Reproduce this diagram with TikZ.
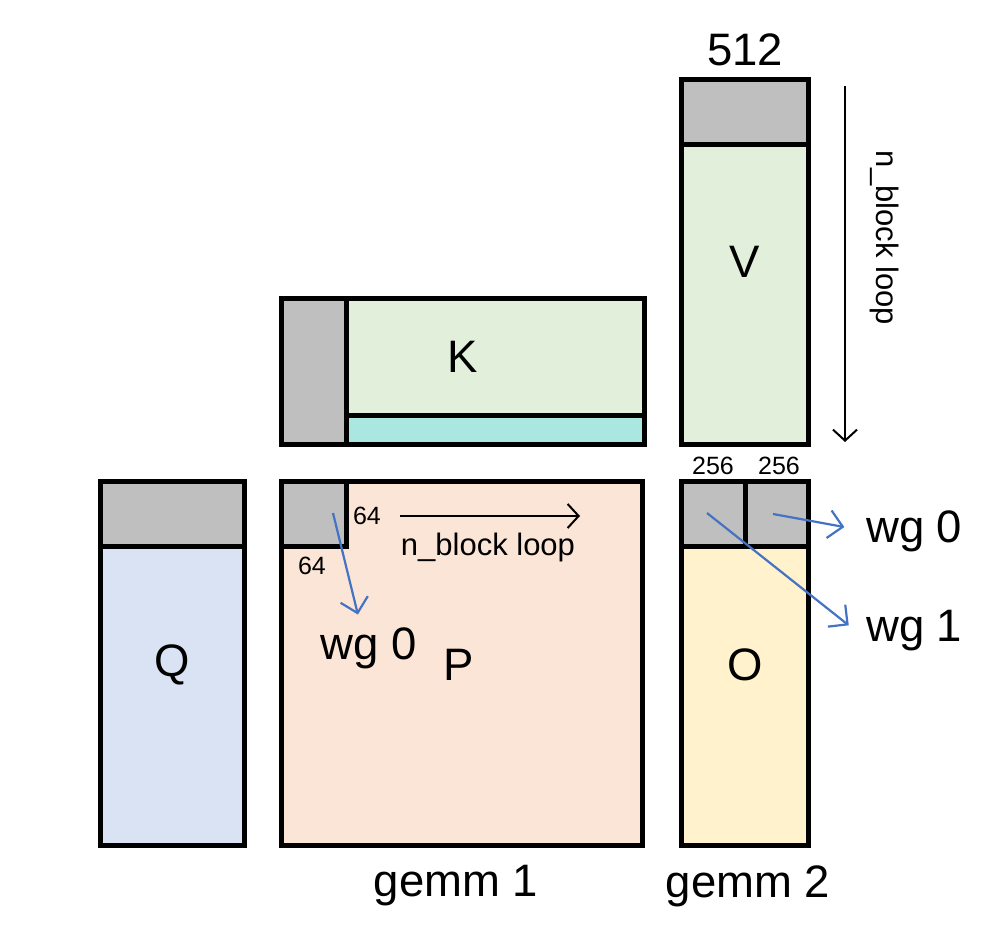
\documentclass[tikz,border=0pt]{standalone}
\usepackage{fontspec}
\setmainfont{Liberation Sans}
\usetikzlibrary{arrows.meta}
\definecolor{tilegray}{RGB}{191,191,191}
\definecolor{kvgreen}{RGB}{226,239,218}
\definecolor{kcyan}{RGB}{169,231,224}
\definecolor{qblue}{RGB}{218,227,243}
\definecolor{porange}{RGB}{251,229,214}
\definecolor{oyellow}{RGB}{255,242,204}
\definecolor{wgblue}{RGB}{68,114,196}
\tikzset{
  blk/.style={draw=black,line width=5pt},
  big/.style={inner sep=0pt,font=\fontsize{45.5}{48}\selectfont},
  mid/.style={inner sep=0pt,font=\fontsize{31}{34}\selectfont},
  small/.style={inner sep=0pt,font=\fontsize{25}{28}\selectfont},
  loop/.style={line width=2pt,-{Straight Barb[length=11pt,width=24pt,line width=2pt]}},
  wgarrow/.style={wgblue,line width=2.2pt,-{Straight Barb[length=14pt,width=28pt,line width=2.2pt]}}
}
\begin{document}
\begin{tikzpicture}[x=1pt,y=-1pt]
\useasboundingbox (0,0) rectangle (994,925);
% matrices
\filldraw[blk,fill=qblue] (100,481) rectangle (244,845);
\filldraw[blk,fill=tilegray] (100,481) rectangle (244,546);
\filldraw[blk,fill=porange] (281,481) rectangle (642,845);
\filldraw[blk,fill=tilegray] (281,481) rectangle (346,546);
\filldraw[blk,fill=kvgreen] (281,299) rectangle (644,444);
\filldraw[blk,fill=tilegray] (281,299) rectangle (346,444);
\filldraw[blk,fill=kcyan] (346,416) rectangle (644,444);
\filldraw[blk,fill=kvgreen] (681,80) rectangle (808,444);
\filldraw[blk,fill=tilegray] (681,80) rectangle (808,145);
\filldraw[blk,fill=oyellow] (681,481) rectangle (808,845);
\filldraw[blk,fill=tilegray] (681,481) rectangle (745,546);
\filldraw[blk,fill=tilegray] (745,481) rectangle (808,546);
% names
\node[big] (q) at (172,665) {Q};
\node[big] (p) at (459,665) {P};
\node[big] (k) at (463,357) {K};
\node[big] (v) at (745,262) {V};
\node[big] (o) at (745,665) {O};
\node[big] (n512) at (745,50) {512};
\node[big] (gemmA) at (456,886) {gemm 1};
\node[big] (gemmB) at (748,886) {gemm 2};
\node[small] (rowsP) at (367,516) {64};
\node[small] (colsP) at (312,566) {64};
\node[small] (halfA) at (713,466) {256};
\node[small] (halfB) at (779,466) {256};
% loops
\coordinate (hl0) at (400,516); \coordinate (hl1) at (580,516);
\draw[loop] (hl0) -- (hl1);
\node[mid] (hloop) at (488,547) {n\_block loop};
\coordinate (vl0) at (845,86); \coordinate (vl1) at (845,442);
\draw[loop] (vl0) -- (vl1);
\node[mid,rotate=-90] (vloop) at (885,238) {n\_block loop};
% work groups
\node[big] (wgP) at (369,648) {wg 0};
\node[big,anchor=west] (wgO0) at (866,531) {wg 0};
\node[big,anchor=west] (wgO1) at (866,631) {wg 1};
\coordinate (tP) at (333,513);
\coordinate (tA) at (707,513);
\coordinate (tB) at (773,514);
\draw[wgarrow,shorten >=13pt] (tP) -- ([xshift=-8pt]wgP.north);
\draw[wgarrow,shorten >=22pt] (tB) -- (wgO0.west);
\draw[wgarrow,shorten >=22pt] (tA) -- ([yshift=-8pt]wgO1.west);
\end{tikzpicture}
\end{document}
